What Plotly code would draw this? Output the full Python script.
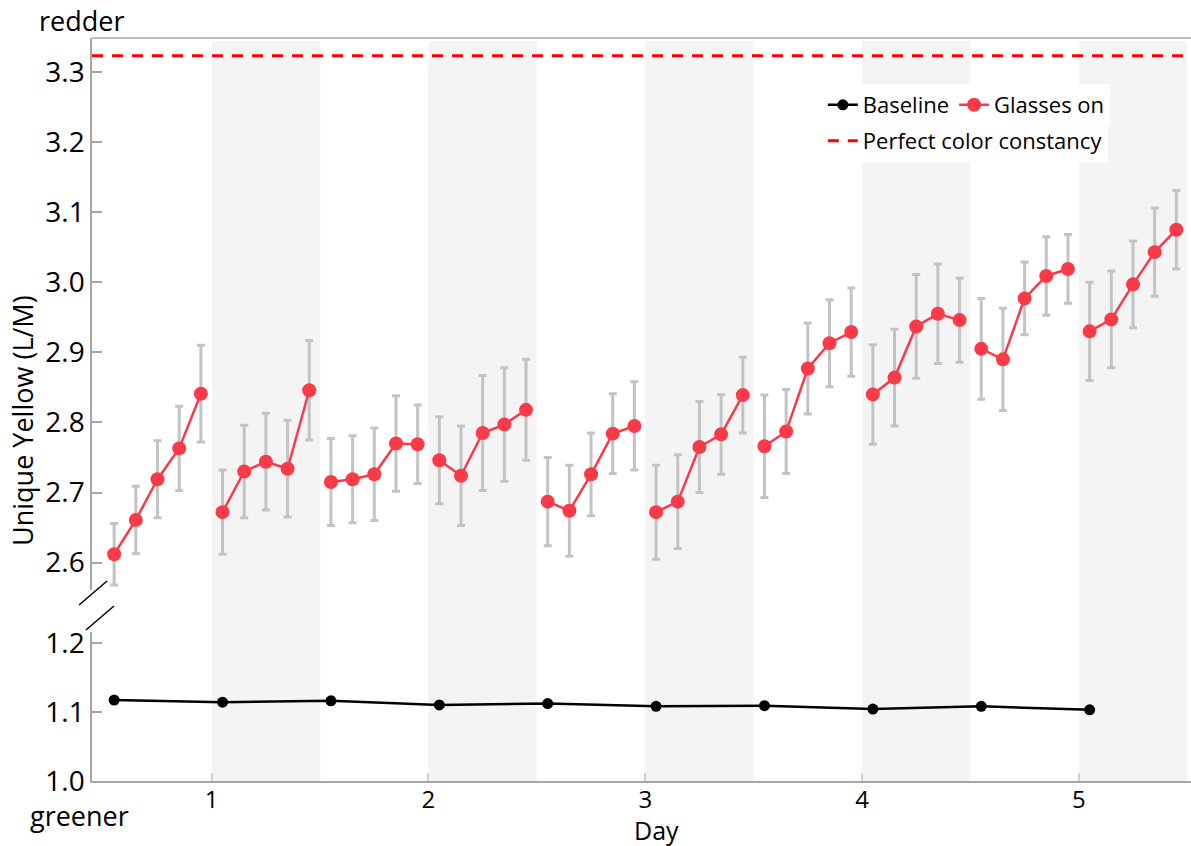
import numpy as np
import plotly.graph_objects as go

# ---------------- data ----------------
# Glasses-on sessions: 10 half-day sessions x 5 measurements
glasses_x = [
    0.55, 0.65, 0.75, 0.85, 0.95,
    1.05, 1.15, 1.25, 1.35, 1.45,
    1.55, 1.65, 1.75, 1.85, 1.95,
    2.05, 2.15, 2.25, 2.35, 2.45,
    2.55, 2.65, 2.75, 2.85, 2.95,
    3.05, 3.15, 3.25, 3.35, 3.45,
    3.55, 3.65, 3.75, 3.85, 3.95,
    4.05, 4.15, 4.25, 4.35, 4.45,
    4.55, 4.65, 4.75, 4.85, 4.95,
    5.05, 5.15, 5.25, 5.35, 5.45,
]
glasses_y = [
    2.612, 2.661, 2.719, 2.763, 2.841,
    2.672, 2.730, 2.744, 2.734, 2.846,
    2.715, 2.719, 2.726, 2.770, 2.769,
    2.746, 2.724, 2.785, 2.797, 2.818,
    2.687, 2.674, 2.726, 2.784, 2.795,
    2.672, 2.687, 2.765, 2.783, 2.839,
    2.766, 2.787, 2.877, 2.913, 2.929,
    2.840, 2.864, 2.937, 2.955, 2.946,
    2.905, 2.890, 2.977, 3.009, 3.019,
    2.930, 2.947, 2.997, 3.043, 3.075,
]
glasses_err = [
    0.044, 0.048, 0.055, 0.060, 0.069,
    0.060, 0.066, 0.069, 0.069, 0.071,
    0.062, 0.062, 0.066, 0.068, 0.056,
    0.062, 0.071, 0.082, 0.081, 0.072,
    0.063, 0.065, 0.059, 0.057, 0.063,
    0.067, 0.067, 0.065, 0.057, 0.054,
    0.073, 0.060, 0.065, 0.062, 0.063,
    0.071, 0.069, 0.074, 0.071, 0.060,
    0.072, 0.073, 0.052, 0.056, 0.049,
    0.070, 0.069, 0.062, 0.063, 0.056,
]
session_size = 5

baseline_x = [0.55, 1.05, 1.55, 2.05, 2.55, 3.05, 3.55, 4.05, 4.55, 5.05]
baseline_y = [1.117, 1.114, 1.116, 1.110, 1.112, 1.108, 1.109, 1.104, 1.108, 1.103]

perfect_constancy = 3.323

glasses_on_periods = [1, 2, 3, 4, 5]   # shaded half-days (start)
period_length = 0.5

x_ticks = [1, 2, 3, 4, 5]
upper_ticks = [2.6, 2.7, 2.8, 2.9, 3.0, 3.1, 3.2, 3.3]
lower_ticks = [1.0, 1.1, 1.2]

# ---------------- styling ----------------
FONT = "Open Sans"
RED = "#F93A48"
GRID = "#A6A6A6"
X_RANGE = [0.4478, 5.5176]

# split sessions with gaps so lines don't connect across sessions
gx, gy, ge = [], [], []
for i in range(0, len(glasses_x), session_size):
    gx += glasses_x[i:i + session_size] + [None]
    gy += glasses_y[i:i + session_size] + [None]
    ge += glasses_err[i:i + session_size] + [None]

fig = go.Figure()

fig.add_trace(go.Scatter(
    x=baseline_x, y=baseline_y, xaxis="x", yaxis="y",
    mode="lines+markers", name="Baseline",
    line=dict(color="black", width=2.5),
    marker=dict(color="black", size=11),
    legend="legend",
))
fig.add_trace(go.Scatter(
    x=gx, y=gy, xaxis="x", yaxis="y2",
    mode="lines+markers", name="Glasses on",
    line=dict(color=RED, width=2.5),
    marker=dict(color=RED, size=14),
    error_y=dict(type="data", array=ge, visible=True, color="#C3C3C3",
                 thickness=3, width=4),
    connectgaps=False,
    legend="legend",
))
fig.add_trace(go.Scatter(
    x=X_RANGE, y=[perfect_constancy, perfect_constancy], xaxis="x", yaxis="y2",
    mode="lines", name="Perfect color constancy",
    line=dict(color="#FF0000", width=3, dash="11px,9px"),
    legend="legend2",
))

shapes = []
for s in glasses_on_periods:
    shapes.append(dict(type="rect", xref="x", yref="paper",
                       x0=s, x1=s + period_length, y0=0, y1=0.996,
                       fillcolor="#F4F4F4", line=dict(width=0), layer="below"))
# top frame line
shapes.append(dict(type="line", xref="paper", yref="paper", x0=0, x1=1, y0=1, y1=1,
                   line=dict(color=GRID, width=1.5)))
# axis-break marks
shapes.append(dict(type="line", xref="paper", yref="paper",
                   x0=-0.0118, y0=0.2369, x1=0.0137, y1=0.2692,
                   line=dict(color="black", width=1.5)))
shapes.append(dict(type="line", xref="paper", yref="paper",
                   x0=-0.0055, y0=0.2032, x1=0.0200, y1=0.2355,
                   line=dict(color="black", width=1.5)))

annotations = [
    dict(text="redder", xref="paper", yref="paper", x=-0.0505, y=1.0242,
         xanchor="left", yanchor="middle", showarrow=False,
         font=dict(family=FONT, size=27, color="black")),
    dict(text="greener", xref="paper", yref="paper", x=-0.0582, y=-0.0465,
         xanchor="left", yanchor="middle", showarrow=False,
         font=dict(family=FONT, size=27, color="black")),
    dict(text="Day", xref="paper", yref="paper", x=0.5132, y=-0.0660,
         xanchor="center", yanchor="middle", showarrow=False,
         font=dict(family=FONT, size=25, color="black")),
    dict(text="Unique Yellow (L/M)", xref="paper", yref="paper", x=-0.0628, y=0.4859,
         xanchor="center", yanchor="middle", textangle=-90, showarrow=False,
         font=dict(family=FONT, size=27, color="black")),
]

fig.update_layout(
    width=1191, height=846,
    margin=dict(l=92, r=0, t=38, b=65),
    paper_bgcolor="white", plot_bgcolor="white",
    font=dict(family=FONT, color="black"),
    shapes=shapes, annotations=annotations,
    xaxis=dict(range=X_RANGE, anchor="y", tickvals=x_ticks, ticks="inside",
               ticklen=8, tickcolor="#D0D0D0", tickwidth=1.5,
               showline=True, linecolor=GRID, linewidth=1.5,
               showgrid=False, zeroline=False, ticklabelstandoff=-4,
               tickfont=dict(family=FONT, size=24, color="black")),
    yaxis=dict(domain=[0, 0.2005], range=[1.0, 1.2155], anchor="x",
               tickvals=lower_ticks, tickformat=".1f", ticks="inside",
               ticklen=10, tickcolor=GRID, tickwidth=1.5,
               showline=True, linecolor=GRID, linewidth=1.5,
               showgrid=False, zeroline=False,
               tickfont=dict(family=FONT, size=28, color="black")),
    yaxis2=dict(domain=[0.2571, 1], range=[2.561, 3.3485], anchor="x",
                tickvals=upper_ticks, tickformat=".1f", ticks="inside",
                ticklen=10, tickcolor=GRID, tickwidth=1.5,
                showline=True, linecolor=GRID, linewidth=1.5,
                showgrid=False, zeroline=False,
                tickfont=dict(family=FONT, size=28, color="black")),
    legend=dict(orientation="h", x=0.665, y=0.9098, xanchor="left", yanchor="middle",
                bgcolor="white", itemwidth=30, itemsizing="trace",
                font=dict(family=FONT, size=22, color="black"),
                tracegroupgap=0, traceorder="normal"),
    legend2=dict(orientation="h", x=0.665, y=0.8614, xanchor="left", yanchor="middle",
                 bgcolor="white", itemwidth=30,
                 font=dict(family=FONT, size=22, color="black")),
    showlegend=True,
)

fig.write_html("out.html")
